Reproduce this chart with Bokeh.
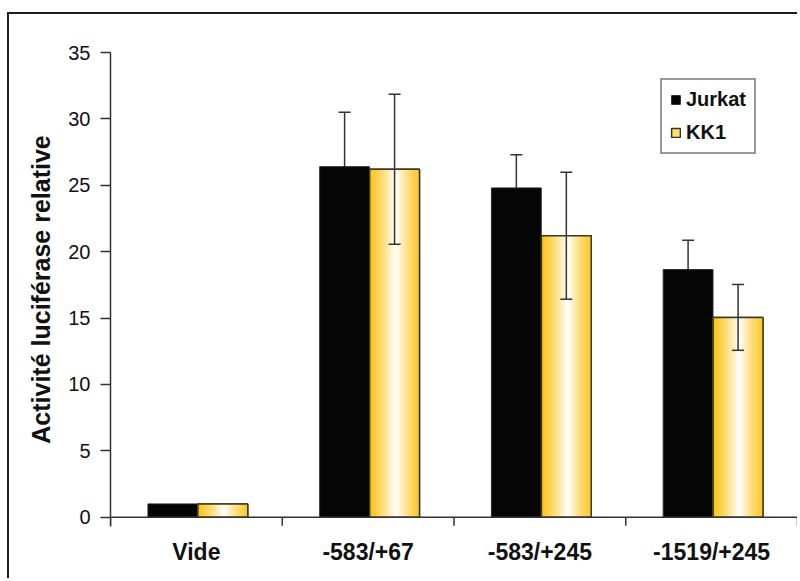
import numpy as np
from bokeh.plotting import figure
from bokeh.models import (ColumnDataSource, FactorRange, Range1d, CategoricalAxis,
                          FixedTicker, Whisker, TeeHead, Legend, LegendItem, Span)
from bokeh.transform import dodge
from bokeh.embed import file_html
from bokeh.resources import INLINE

# ---- data ----
categories = ["Vide", "-583/+67", "-583/+245", "-1519/+245"]
jurkat = [1.0, 26.4, 24.8, 18.65]
jurkat_err = [0.0, 4.1, 2.5, 2.2]
kk1 = [1.0, 26.2, 21.2, 15.05]
kk1_err = [0.0, 5.65, 4.78, 2.48]
y_ticks = [0, 5, 10, 15, 20, 25, 30, 35]
series_names = ["Jurkat", "KK1"]
y_label = "Activité luciférase relative"

FONT = "Liberation Sans"
BAR_W = 0.29
OFF_J = -0.137
OFF_K = 0.154
AX = "#333333"
TICK_DEPTH = 0.65  # length of the category boundary ticks below zero (data units)

src = ColumnDataSource(dict(cat=categories, jurkat=jurkat, kk1=kk1))

p = figure(width=790, height=566,
           x_range=FactorRange(factors=categories, range_padding=0),
           y_range=Range1d(-0.7, 35), x_axis_type=None,
           output_backend="svg", toolbar_location=None,
           min_border_left=101, min_border_right=2, min_border_top=38, min_border_bottom=54)
p.styles = {"border-top": "2px solid #1e1e1e", "border-left": "2px solid #1e1e1e",
            "margin-top": "12px", "margin-left": "7px"}
p.outline_line_color = None
p.grid.visible = False
p.background_fill_color = "white"
p.border_fill_color = "white"

# y axis
ya = p.yaxis[0]
ya.ticker = FixedTicker(ticks=y_ticks)
ya.major_tick_out = 10
ya.major_tick_in = 0
ya.minor_tick_line_color = None
ya.axis_line_color = AX
ya.axis_line_width = 1.5
ya.major_tick_line_color = AX
ya.major_tick_line_width = 1.5
ya.major_label_text_font = FONT
ya.major_label_text_font_size = "20px"
ya.major_label_text_color = "#111111"
ya.major_label_standoff = 10
ya.axis_label = y_label
ya.axis_label_text_font = FONT
ya.axis_label_text_font_size = "25px"
ya.axis_label_text_font_style = "bold"
ya.axis_label_text_color = "#111111"
ya.axis_label_standoff = 10

# x axis: line at zero, boundary ticks, category labels
p.add_layout(Span(location=0, dimension="width", line_color=AX, line_width=1.5))
n = len(categories)
bounds = list(range(n + 1))
p.segment(x0=bounds, x1=bounds, y0=[0] * (n + 1), y1=[-TICK_DEPTH] * (n + 1),
          line_color=AX, line_width=1.5)
ax_lab = CategoricalAxis(axis_line_color=None, major_tick_line_color=None,
                         minor_tick_line_color=None,
                         major_label_text_font=FONT, major_label_text_font_size="23px",
                         major_label_text_font_style="bold", major_label_text_color="#111111",
                         major_label_standoff=6)
p.add_layout(ax_lab, "below")

# Jurkat bars
r_j = p.vbar(x=dodge("cat", OFF_J, range=p.x_range), top="jurkat", width=BAR_W, source=src,
             fill_color="#050505", line_color="#2a2a2a", line_width=1)

# KK1 bars (base + gradient slices + outline)
r_k = p.vbar(x=dodge("cat", OFF_K, range=p.x_range), top="kk1", width=BAR_W, source=src,
             fill_color="#FFE066", line_color="#333333", line_width=1.5)
N = 36
gold = np.array([252, 196, 28])
for i in range(N):
    t = (i + 0.5) / N
    w = max(0.0, 1 - abs(t - 0.53) / 0.53) ** 1.3
    c = gold + (255 - gold) * w
    color = "#%02x%02x%02x" % tuple(int(round(v)) for v in c)
    off = OFF_K - BAR_W / 2 + t * BAR_W
    p.vbar(x=dodge("cat", off, range=p.x_range), top="kk1", width=BAR_W / N * 1.6,
           source=src, fill_color=color, line_color=None)
p.vbar(x=dodge("cat", OFF_K, range=p.x_range), top="kk1", width=BAR_W, source=src,
       fill_color=None, line_color="#3a3a20", line_width=1.5)


def whisker_src(vals, errs):
    idx = [i for i, e in enumerate(errs) if e > 0]
    return ColumnDataSource(dict(cat=[categories[i] for i in idx],
                                 upper=[vals[i] + errs[i] for i in idx],
                                 lower=[vals[i] - errs[i] for i in idx]))


for vals, errs, off, lvl in [(jurkat, jurkat_err, OFF_J, "underlay"),
                             (kk1, kk1_err, OFF_K, "overlay")]:
    ws = whisker_src(vals, errs)
    wk = Whisker(base=dodge("cat", off, range=p.x_range), upper="upper", lower="lower",
                 source=ws, line_color=AX, line_width=1.5, level=lvl,
                 upper_head=TeeHead(size=12, line_color=AX, line_width=1.5),
                 lower_head=TeeHead(size=12, line_color=AX, line_width=1.5))
    p.add_layout(wk)

legend = Legend(items=[LegendItem(label=series_names[0], renderers=[r_j]),
                       LegendItem(label=series_names[1], renderers=[r_k])],
                location=(550, 372), orientation="vertical",
                border_line_color="#333333", border_line_width=2,
                background_fill_color="white", background_fill_alpha=1,
                label_text_font=FONT, label_text_font_size="20px",
                label_text_font_style="bold", label_text_color="#111111",
                glyph_width=11, glyph_height=11, label_standoff=5,
                padding=8, spacing=10, margin=0)
p.add_layout(legend)

open("out.html", "w").write(file_html(p, INLINE))
